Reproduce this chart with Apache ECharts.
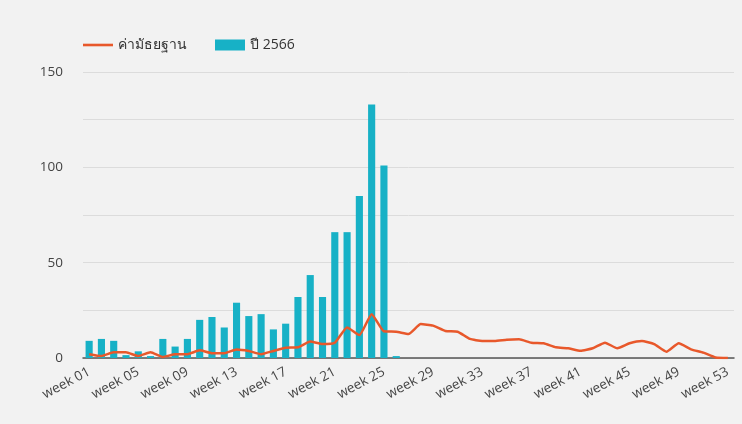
<!DOCTYPE html>
<html>
<head>
<meta charset="utf-8">
<script src="https://cdn.jsdelivr.net/npm/echarts@6/dist/echarts.min.js"></script>
<style>
html,body{margin:0;padding:0;background:#f2f2f2;}
#c{width:742px;height:424px;}
</style>
</head>
<body>
<div id="c"></div>
<script>
const weeks = [];
for (let i = 1; i <= 53; i++) weeks.push('week ' + (i < 10 ? '0' + i : '' + i));

const seriesMedianName = 'ค่ามัธยฐาน';
const seriesYearName = 'ปี 2566';

const medianValues = [2, 1, 3, 3, 1, 3, 0.5, 2, 2, 4, 2.5, 2.5, 4.5,
  3.7, 2, 3.7, 5.4, 5.6, 8.6, 7.3, 8, 16, 12, 23, 14,
  13.8, 12.6, 17.8, 17, 14.2, 13.8, 10, 8.9, 8.9, 9.6,
  9.8, 8, 7.7, 5.6, 5.1, 3.8, 5.1, 8, 5.1, 7.7, 8.9, 7.3,
  3.3, 7.7, 4.5, 2.8, 0.3, 0];

const yearValues = [9, 10, 9, 1.5, 3.5, 1, 10, 6, 10, 20, 21.5, 16, 29,
  22, 23, 15, 18, 32, 43.5, 32, 66, 66, 85, 133, 101, 1,
  null, null, null, null, null, null, null, null, null, null, null, null, null, null,
  null, null, null, null, null, null, null, null, null, null, null, null, null];

const yTicks = [0, 50, 100, 150];

const chart = echarts.init(document.getElementById('c'));
chart.setOption({
  backgroundColor: '#f2f2f2',
  textStyle: { fontFamily: '"Open Sans", "Noto Sans", sans-serif' },
  legend: {
    left: 78, top: 33,
    itemGap: 28,
    itemWidth: 30, itemHeight: 11,
    textStyle: { color: '#333', fontSize: 14 },
    data: [
      { name: seriesMedianName, icon: 'path://M0,4.2 L30,4.2 L30,6.8 L0,6.8 Z' },
      { name: seriesYearName, icon: 'rect' }
    ]
  },
  grid: { left: 83, right: 8, top: 72, bottom: 66 },
  xAxis: {
    type: 'category',
    data: weeks,
    axisTick: { show: false },
    axisLine: { lineStyle: { color: '#555', width: 1.5 } },
    axisLabel: {
      interval: 3, rotate: 28, color: '#444', fontSize: 13.5, margin: 13
    }
  },
  yAxis: {
    type: 'value', min: 0, max: 150, interval: 25,
    axisLine: { show: false }, axisTick: { show: false },
    splitLine: { lineStyle: { color: '#dcdcdc' } },
    axisLabel: {
      color: '#444', fontSize: 13.5, margin: 20,
      formatter: v => (yTicks.indexOf(v) >= 0 ? String(v) : '')
    }
  },
  series: [
    {
      name: seriesYearName, type: 'bar', data: yearValues,
      barWidth: '58%', itemStyle: { color: '#17b1c6' }, z: 1
    },
    {
      name: seriesMedianName, type: 'line', data: medianValues,
      symbol: 'none', smooth: 0.15,
      lineStyle: { color: '#e8582b', width: 2.5 },
      itemStyle: { color: '#e8582b' }, z: 3
    }
  ]
});
</script>
</body>
</html>
